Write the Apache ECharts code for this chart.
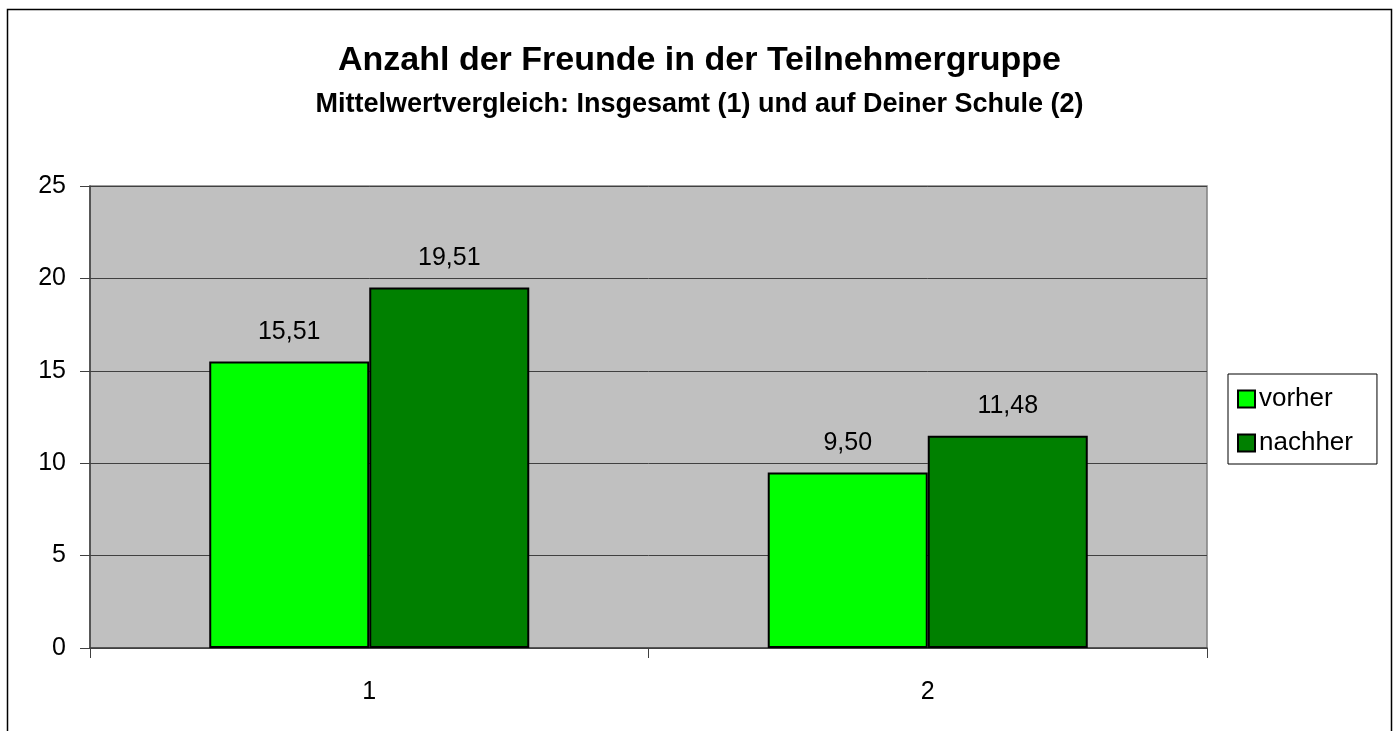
<!DOCTYPE html>
<html>
<head>
<meta charset="utf-8">
<script src="https://cdn.jsdelivr.net/npm/echarts@6/dist/echarts.min.js"></script>
<style>
  html, body { margin: 0; padding: 0; background: #fff; }
  #chart { width: 1399px; height: 731px; }
</style>
</head>
<body>
<div id="chart"></div>
<script>
// Daten
var categories = ['1', '2'];
var vorher = [15.51, 9.50];
var nachher = [19.51, 11.48];
var yTicks = [0, 5, 10, 15, 20, 25];

var myChart = echarts.init(document.getElementById('chart'));

function komma(p) {
  return p.value.toFixed(2).replace('.', ',');
}

var option = {
  backgroundColor: '#ffffff',
  animation: false,
  textStyle: { fontFamily: 'Liberation Sans, Arial, sans-serif' },
  graphic: [{
    type: 'rect',
    shape: { x: 7.5, y: 9.5, width: 1384, height: 740 },
    style: { fill: 'none', stroke: '#000', lineWidth: 1.5 },
    silent: true
  }],
  title: [{
    text: 'Anzahl der Freunde in der Teilnehmergruppe',
    left: 'center',
    top: 39,
    textStyle: { fontSize: 34, fontWeight: 'bold', color: '#000' }
  }, {
    text: 'Mittelwertvergleich: Insgesamt (1) und auf Deiner Schule (2)',
    left: 'center',
    top: 86,
    textStyle: { fontSize: 27, fontWeight: 'bold', color: '#000' }
  }],
  legend: {
    orient: 'vertical',
    left: 1228,
    top: 374,
    padding: [12, 24, 8, 9],
    itemGap: 18,
    itemWidth: 17,
    itemHeight: 17,
    borderColor: '#000',
    borderWidth: 1,
    backgroundColor: '#fff',
    icon: 'rect',
    textStyle: { fontSize: 26, color: '#000', padding: [0, 0, 0, -1] },
    data: ['vorher', 'nachher']
  },
  grid: {
    left: 90,
    right: 192,
    top: 186,
    bottom: 83,
    show: true,
    backgroundColor: '#c0c0c0',
    borderColor: '#808080',
    borderWidth: 1.5
  },
  xAxis: {
    type: 'category',
    data: categories,
    axisLine: { lineStyle: { color: '#404040', width: 1.5 } },
    axisTick: { show: true, length: 10, lineStyle: { color: '#404040' } },
    axisLabel: { fontSize: 25, color: '#000', margin: 32 }
  },
  yAxis: {
    type: 'value',
    min: 0,
    max: 25,
    interval: 5,
    axisLine: { show: true, lineStyle: { color: '#404040', width: 1.5 } },
    axisTick: { show: true, length: 10, lineStyle: { color: '#404040' } },
    axisLabel: {
      fontSize: 25, color: '#000', margin: 24,
      formatter: function (v) { return yTicks.indexOf(v) >= 0 ? String(v) : ''; }
    },
    splitLine: { lineStyle: { color: '#404040', width: 1 } }
  },
  series: [{
    name: 'vorher',
    type: 'bar',
    data: vorher,
    barGap: '0%',
    barCategoryGap: '42.7%',
    itemStyle: { color: '#00ff00', borderColor: '#000', borderWidth: 2 },
    label: { show: true, position: 'top', distance: 17, fontSize: 25, color: '#000', formatter: komma }
  }, {
    name: 'nachher',
    type: 'bar',
    data: nachher,
    barGap: '0%',
    barCategoryGap: '42.7%',
    itemStyle: { color: '#008000', borderColor: '#000', borderWidth: 2 },
    label: { show: true, position: 'top', distance: 17, fontSize: 25, color: '#000', formatter: komma }
  }]
};

myChart.setOption(option);
window.addEventListener('resize', function () { myChart.resize(); });
</script>
</body>
</html>
